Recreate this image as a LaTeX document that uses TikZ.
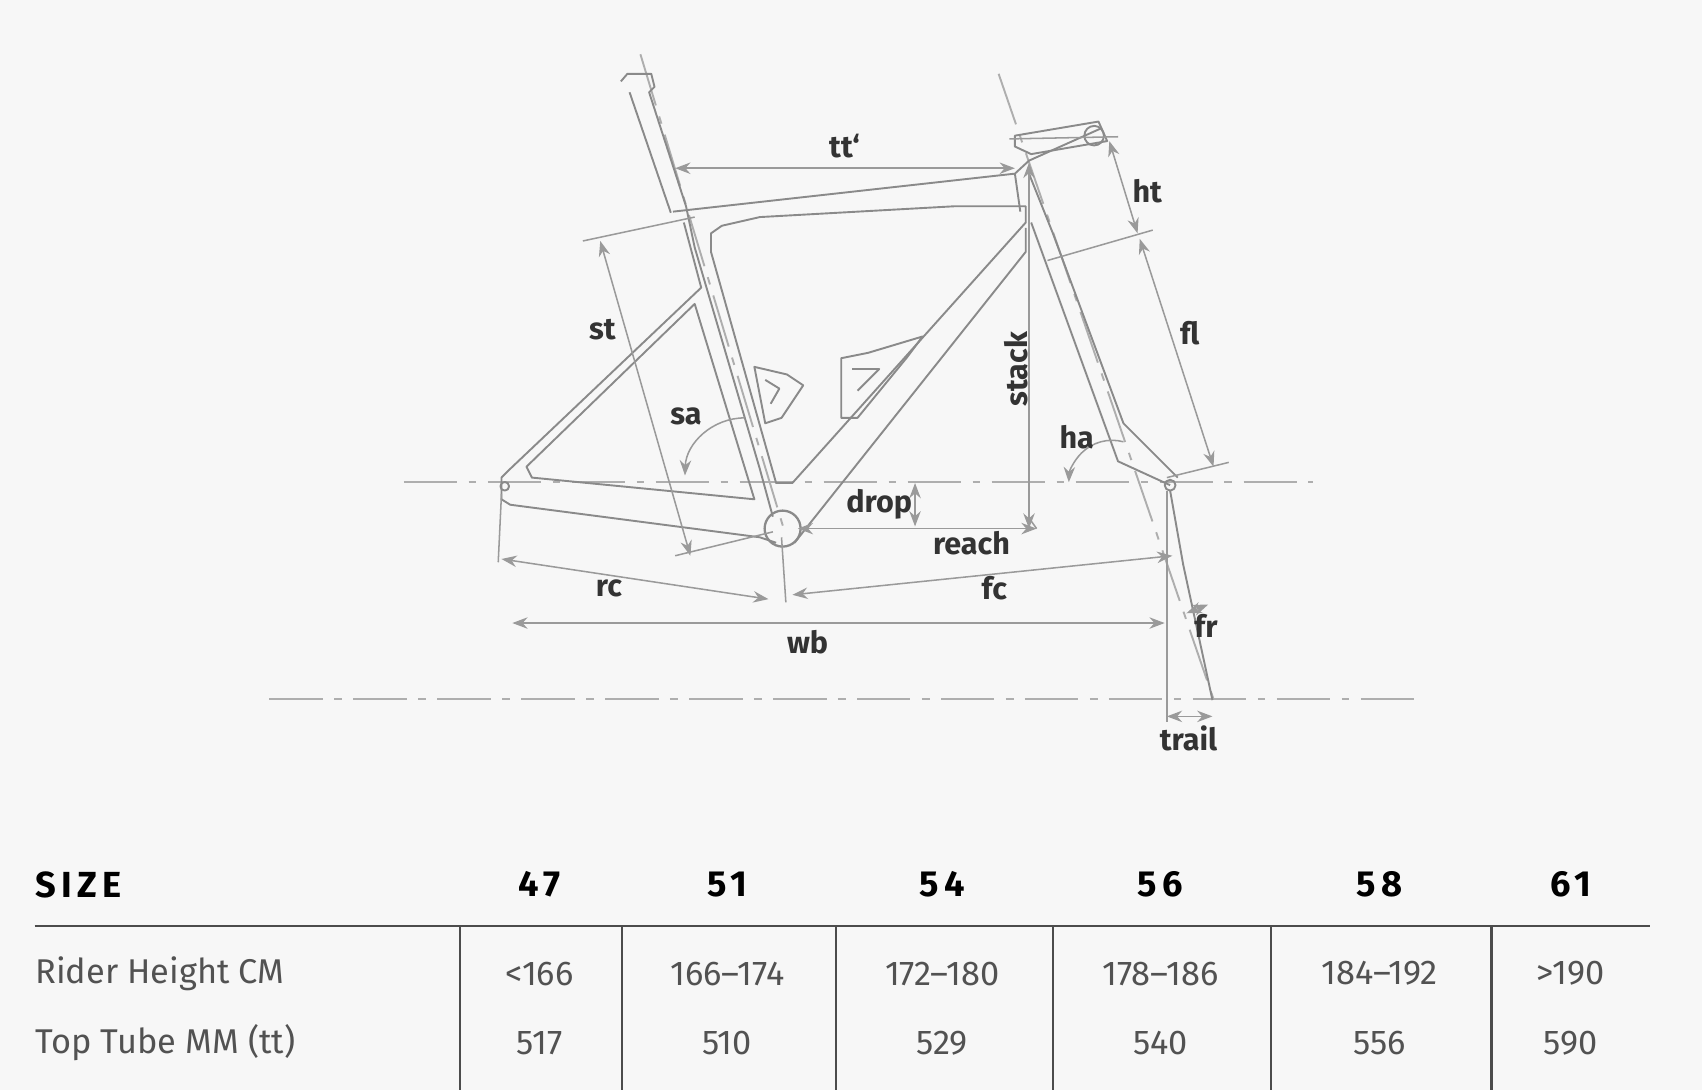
\documentclass[tikz,border=0pt]{standalone}
\usepackage{fontspec}
\setmainfont{Fira Sans}
\usetikzlibrary{arrows.meta}
\definecolor{bg}{HTML}{F7F7F7}
\definecolor{fr}{HTML}{8A8A8A}
\definecolor{dim}{HTML}{9A9A9A}
\definecolor{txt}{HTML}{333333}
\begin{document}
\begin{tikzpicture}[x=0.01cm,y=-0.01cm,
  frame/.style={draw=fr,line width=0.5pt,line join=round},
  dimline/.style={draw=dim,line width=0.4pt,{Stealth[length=4pt,width=3pt]}-{Stealth[length=4pt,width=3pt]}},
  ext/.style={draw=dim,line width=0.4pt},
  axis/.style={draw=dim!80,line width=0.5pt,dash pattern=on 14pt off 3pt on 2pt off 3pt},
  lab/.style={font=\bfseries\fontsize{8}{9}\selectfont,text=txt,inner sep=1pt},
  head/.style={font=\bfseries\fontsize{9.5}{11}\selectfont,text=black,inner sep=0pt},
  cell/.style={font=\fontsize{9}{11}\selectfont,text=txt!85,inner sep=0pt}]
\fill[bg] (0,0) rectangle (1568,1004);
\useasboundingbox (0,0) rectangle (1568,1004);
% axes
\draw[axis] (372,444) -- (1210,444);
\draw[axis] (248,644) -- (1305,644);
\draw[axis] (590,50) -- (722,487);
\draw[axis] (920,68) -- (1120,650);
% frame
\coordinate (bb) at (721,487);
\node[circle,draw=fr,line width=0.6pt,minimum size=24pt*0.35] (bbn) at (bb) {};
\draw[frame] (572,75) -- (578,68) -- (600,68) -- (603,80) -- (598,85) -- (632,190) -- (640,228) -- (700,432) -- (712,476);
\draw[frame] (580,85) -- (618,196);
\draw[frame] (620,195) -- (935,160) -- (948,148) -- (1015,118);
\draw[frame] (935,125) -- (1012,112) -- (1020,130) -- (950,142) -- (935,135) -- cycle;
\draw[frame] (1008,125) circle (9);
\draw[frame] (948,160) -- (970,215) -- (1035,390) -- (1085,440);
\draw[frame] (950,205) -- (1030,425) -- (1078,447);
\draw[frame] (935,160) -- (940,195);
\draw[frame] (655,215) -- (665,208) -- (700,200) -- (880,190) -- (945,190) -- (945,205) -- (730,445) -- (715,445) -- (655,232) -- cycle;
\draw[frame] (630,205) -- (646,265) -- (470,432) -- (462,440) -- (462,460) -- (470,465) -- (700,495) -- (715,500);
\draw[frame] (640,280) -- (695,460) -- (490,440) -- (485,430) -- cycle;
\draw[frame] (945,210) -- (945,232) -- (732,500);
\draw[frame] (695,338) -- (725,345) -- (740,355) -- (720,385) -- (705,390) -- cycle;
\draw[frame] (705,350) -- (718,358) -- (710,372);
\draw[frame] (775,330) -- (800,325) -- (850,310) -- (835,330) -- (790,385) -- (775,385) -- cycle;
\draw[frame] (785,340) -- (810,340) -- (790,360);
\draw[frame] (1078,447) circle (5);
\draw[frame] (1078,452) -- (1090,520) -- (1117,645);
\draw[frame] (465,448) circle (4);
% extension lines
\draw[ext] (537,222) -- (640,200);
\draw[ext] (622,512) -- (712,490);
\draw[ext] (965,240) -- (1062,212);
\draw[ext] (1075,440) -- (1132,426);
\draw[ext] (930,128) -- (1030,126);
\draw[ext] (462,455) -- (459,518);
\draw[ext] (720,495) -- (724,555);
\draw[ext] (1075,452) -- (1075,665);
\draw[ext] (950,480) -- (955,487);
% dimensions
\draw[dimline] (622,155) -- (935,155);
\node[lab] (ltt) at (778,135) {tt‘};
\draw[dimline] (553,222) -- (636,512);
\node[lab] (lst) at (555,304) {st};
\draw[dimline] (1022,130) -- (1048,215);
\node[lab] (lht) at (1057,176) {ht};
\draw[dimline] (1050,220) -- (1118,430);
\node[lab] (lfl) at (1096,307) {fl};
\draw[dimline] (948,150) -- (948,487);
\node[lab,rotate=90] (lstack) at (936,340) {stack};
\draw[dimline] (735,487) -- (955,487);
\node[lab] (lreach) at (895,500) {reach};
\draw[dimline] (843,445) -- (843,485);
\node[lab] (ldrop) at (810,465) {drop};
\draw[ext,-{Stealth[length=4pt,width=3pt]}] (686,385) arc[start angle=-90,end angle=-178,radius=55];
\node[lab] (lsa) at (632,384) {sa};
\draw[ext,-{Stealth[length=4pt,width=3pt]}] (1035,407) arc[start angle=-75,end angle=-178,radius=40];
\node[lab] (lha) at (992,403) {ha};
\draw[dimline] (462,515) -- (708,552);
\node[lab] (lrc) at (561,542) {rc};
\draw[dimline] (730,548) -- (1080,512);
\node[lab] (lfc) at (916,542) {fc};
\draw[dimline] (472,574) -- (1073,574);
\node[lab] (lwb) at (744,592) {wb};
\draw[dimline] (1093,565) -- (1113,557);
\node[lab] (lfr) at (1111,577) {fr};
\draw[dimline] (1075,660) -- (1117,660);
\node[lab] (ltrail) at (1095,680) {trail};
% table
\node[head,anchor=west] (size) at (32,815) {\addfontfeature{LetterSpace=15}SIZE};
\foreach \x/\t in {497/47,670/51,868/54,1069/56,1271/58,1447/61}
  \node[head] at (\x,815) {\addfontfeature{LetterSpace=15}\t};
\draw[draw=black!70,line width=0.6pt] (32,853) -- (1520,853);
\foreach \x in {424,573,770,970,1171,1374}
  \draw[draw=black!70,line width=0.6pt] (\x,853) -- (\x,1004);
\node[cell,anchor=west] (r1) at (32,897) {Rider Height CM};
\node[cell,anchor=west] (r2) at (32,961) {Top Tube MM (tt)};
\foreach \x/\t in {497/<166,670/166–174,868/172–180,1069/178–186,1271/184–192,1447/>190}
  \node[cell] at (\x,897) {\t};
\foreach \x/\t in {497/517,670/510,868/529,1069/540,1271/556,1447/590}
  \node[cell] at (\x,961) {\t};
\end{tikzpicture}
\end{document}
